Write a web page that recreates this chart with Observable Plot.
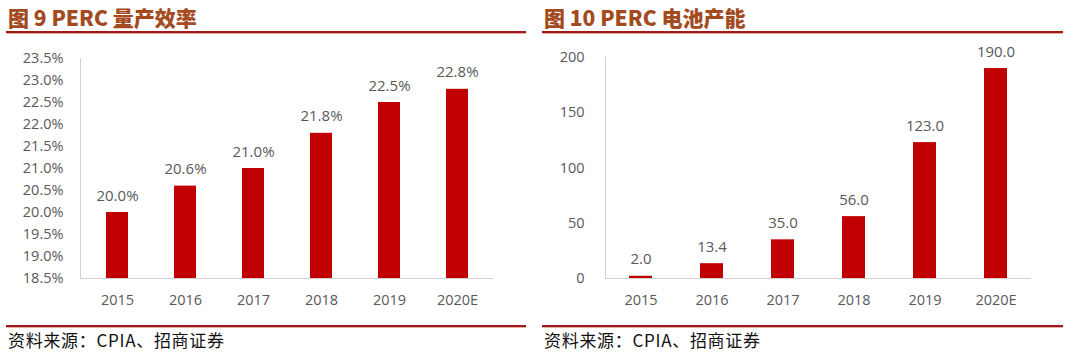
<!DOCTYPE html>
<html>
<head>
<meta charset="utf-8">
<script src="https://cdn.jsdelivr.net/npm/d3@7"></script>
<script src="https://cdn.jsdelivr.net/npm/@observablehq/plot@0.6"></script>
<style>
  html, body { margin: 0; padding: 0; background: #fff; width: 1070px; height: 358px; overflow: hidden; }
  .panel { position: absolute; top: 0; height: 358px; }
  .title { position: absolute; left: 2px; top: 4px; font-family: "Noto Sans CJK SC", sans-serif; font-weight: 900; font-size: 21px; color: #a34a1f; white-space: nowrap; line-height: 26px; }
  .rule { position: absolute; left: 0; right: 0; height: 2px; background: #a11a1a; box-shadow: 0 1px 0 #e8b0a8; }
  .source { position: absolute; left: 2px; top: 329px; font-family: "Noto Sans CJK SC", sans-serif; font-size: 17px; letter-spacing: 0.7px; color: #111; white-space: nowrap; line-height: 22px; }
  .chart { position: absolute; left: 0; top: 40px; }
</style>
</head>
<body>
<div class="panel" id="p1" style="left:6px;width:520px">
  <div class="title">图 9 PERC 量产效率</div>
  <div class="rule" style="top:31px"></div>
  <div class="chart" id="c1"></div>
  <div class="rule" style="top:325px"></div>
  <div class="source">资料来源：CPIA、招商证券</div>
</div>
<div class="panel" id="p2" style="left:542px;width:521px">
  <div class="title">图 10 PERC 电池产能</div>
  <div class="rule" style="top:31px"></div>
  <div class="chart" id="c2"></div>
  <div class="rule" style="top:325px"></div>
  <div class="source">资料来源：CPIA、招商证券</div>
</div>
<script>
const years = ["2015", "2016", "2017", "2018", "2019", "2020E"];
const efficiency = [20.0, 20.6, 21.0, 21.8, 22.5, 22.8];
const capacity = [2.0, 13.4, 35.0, 56.0, 123.0, 190.0];
const efficiencyTicks = [18.5, 19.0, 19.5, 20.0, 20.5, 21.0, 21.5, 22.0, 22.5, 23.0, 23.5];
const capacityTicks = [0, 50, 100, 150, 200];

const effData = years.map((y, i) => ({year: y, value: efficiency[i]}));
const capData = years.map((y, i) => ({year: y, value: capacity[i]}));

const font = "Open Sans, Noto Sans, sans-serif";
const gray = "#595959";
const axisGray = "#d0d0d0";
const barColor = "#c00000";

function makeChart(data, opts) {
  const svg = Plot.plot({
    width: opts.width, height: 280,
    marginLeft: opts.marginLeft, marginRight: opts.marginRight, marginTop: opts.marginTop, marginBottom: 42,
    style: {fontFamily: font, fontSize: "14px", color: gray, background: "transparent"},
    x: {domain: years, paddingInner: 0.68, paddingOuter: 0.34, label: null},
    y: {domain: opts.domain, label: null},
    marks: [
      Plot.ruleY([opts.domain[0]], {stroke: axisGray}),
      Plot.axisY({ticks: opts.ticks, tickSize: 0, tickPadding: opts.tickPadding, tickFormat: opts.tickFormat, label: null, fill: gray, fontSize: 14.5}),
      Plot.axisX({tickSize: 0, tickPadding: 16, label: null, fill: gray, fontSize: 14.5}),
      Plot.barY(data, {x: "year", y1: opts.domain[0], y2: "value", fill: barColor}),
      Plot.text(data, {x: "year", y: "value", text: opts.labelFormat, lineAnchor: "bottom", dy: -12, fill: gray, fontSize: 15})
    ]
  });
  // vertical axis line at the left edge of the plot area, positioned from Plot's own y scale
  const y = svg.scale("y");
  const ns = "http://www.w3.org/2000/svg";
  const line = document.createElementNS(ns, "line");
  const x = opts.marginLeft + 0.5;
  line.setAttribute("x1", x); line.setAttribute("x2", x);
  line.setAttribute("y1", y.apply(opts.domain[0]));
  line.setAttribute("y2", y.apply(opts.domain[1]));
  line.setAttribute("stroke", axisGray);
  svg.appendChild(line);
  return svg;
}

document.getElementById("c1").appendChild(makeChart(effData, {
  width: 520, marginLeft: 74, marginRight: 33, marginTop: 18,
  domain: [18.5, 23.5], ticks: efficiencyTicks, tickPadding: 17,
  tickFormat: d => d.toFixed(1) + "%", labelFormat: d => d.value.toFixed(1) + "%"
}));

document.getElementById("c2").appendChild(makeChart(capData, {
  width: 521, marginLeft: 63, marginRight: 32, marginTop: 17,
  domain: [0, 200], ticks: capacityTicks, tickPadding: 21,
  tickFormat: d => String(d), labelFormat: d => d.value.toFixed(1)
}));
</script>
</body>
</html>
